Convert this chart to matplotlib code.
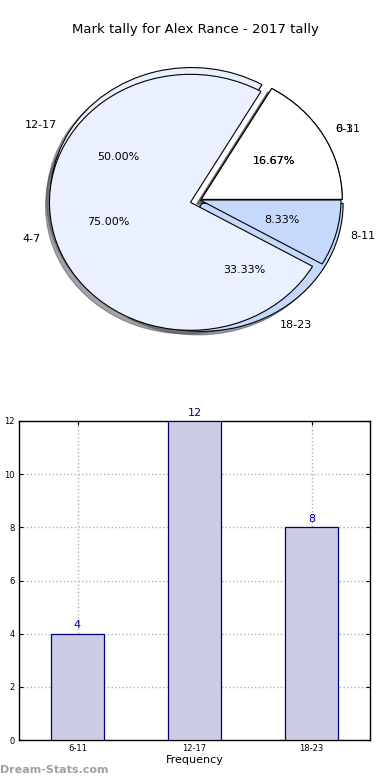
import matplotlib
matplotlib.use("Agg")
import matplotlib.pyplot as plt

# Data
title = "Mark tally for Alex Rance - 2017 tally"
pie_a_labels = ["6-11", "12-17", "18-23"]
pie_a_values = [4, 12, 8]
pie_b_labels = ["0-3", "4-7", "8-11"]
pie_b_values = [2, 9, 1]
bar_categories = ["6-11", "12-17", "18-23"]
bar_values = [4, 12, 8]
y_ticks = [0, 2, 4, 6, 8, 10, 12]

W, H = 390, 780
fig = plt.figure(figsize=(W / 100, H / 100), dpi=100)
fig.patch.set_facecolor("white")

pie_colors = ["#ffffff", "#eaf0fd", "#c5d9fd"]
wp = {"edgecolor": "black", "linewidth": 0.8}

# Pie axes (elliptical pie)
cx, cy = 200, 200
rx, ry = 141, 128
axp = fig.add_axes([(cx - 1.25 * rx) / W, (H - cy - 1.25 * ry) / H,
                    2.5 * rx / W, 2.5 * ry / H])
axp.pie(pie_a_values, labels=pie_a_labels, colors=pie_colors,
        explode=(0.01, 0.07, 0.03), shadow=True, autopct="%1.2f%%",
        startangle=0, wedgeprops=wp, textprops={"fontsize": 8})
axp.pie(pie_b_values, labels=pie_b_labels, colors=pie_colors,
        explode=(0.01, 0.07, 0.0), shadow=True, autopct="%1.2f%%",
        startangle=0, wedgeprops=wp, textprops={"fontsize": 8})
axp.set_aspect("auto")
axp.set_xlim(-1.25, 1.25)
axp.set_ylim(-1.25, 1.25)

fig.text(0.5, 1 - 30 / H, title, ha="center", va="center", fontsize=9.5)

# Bar axes
l, r, t, b = 19, 370, 421, 740
axb = fig.add_axes([l / W, (H - b) / H, (r - l) / W, (b - t) / H])
x = list(range(len(bar_categories)))
bars = axb.bar(x, bar_values, width=0.45, color="#ccccE5",
               edgecolor="#000080", linewidth=0.9, zorder=3)
for xi, v in zip(x, bar_values):
    axb.text(xi, v + 0.12, str(v), ha="center", va="bottom",
             color="#000080", fontsize=8)
axb.set_xlim(-0.5, 2.5)
axb.set_ylim(0, 12)
axb.set_xticks(x)
axb.set_xticklabels(bar_categories, fontsize=6)
axb.set_yticks(y_ticks)
axb.set_yticklabels([str(v) for v in y_ticks], fontsize=6)
axb.tick_params(direction="in", top=True, right=True, length=3, pad=3)
axb.grid(True, linestyle=":", color="#b0b0b0", linewidth=1.0, zorder=0)
axb.set_axisbelow(True)
axb.set_xlabel("Frequency", fontsize=8, labelpad=1)
axb.set_ylabel("Time Interval", fontsize=8, labelpad=4)
for s in axb.spines.values():
    s.set_linewidth(1.0)

fig.text(0 / W, 1 - 770 / H, "Dream-Stats.com", ha="left", va="center",
         fontsize=8, color="#a0a0a0", fontweight="semibold")

fig.savefig("out.png", dpi=100)
